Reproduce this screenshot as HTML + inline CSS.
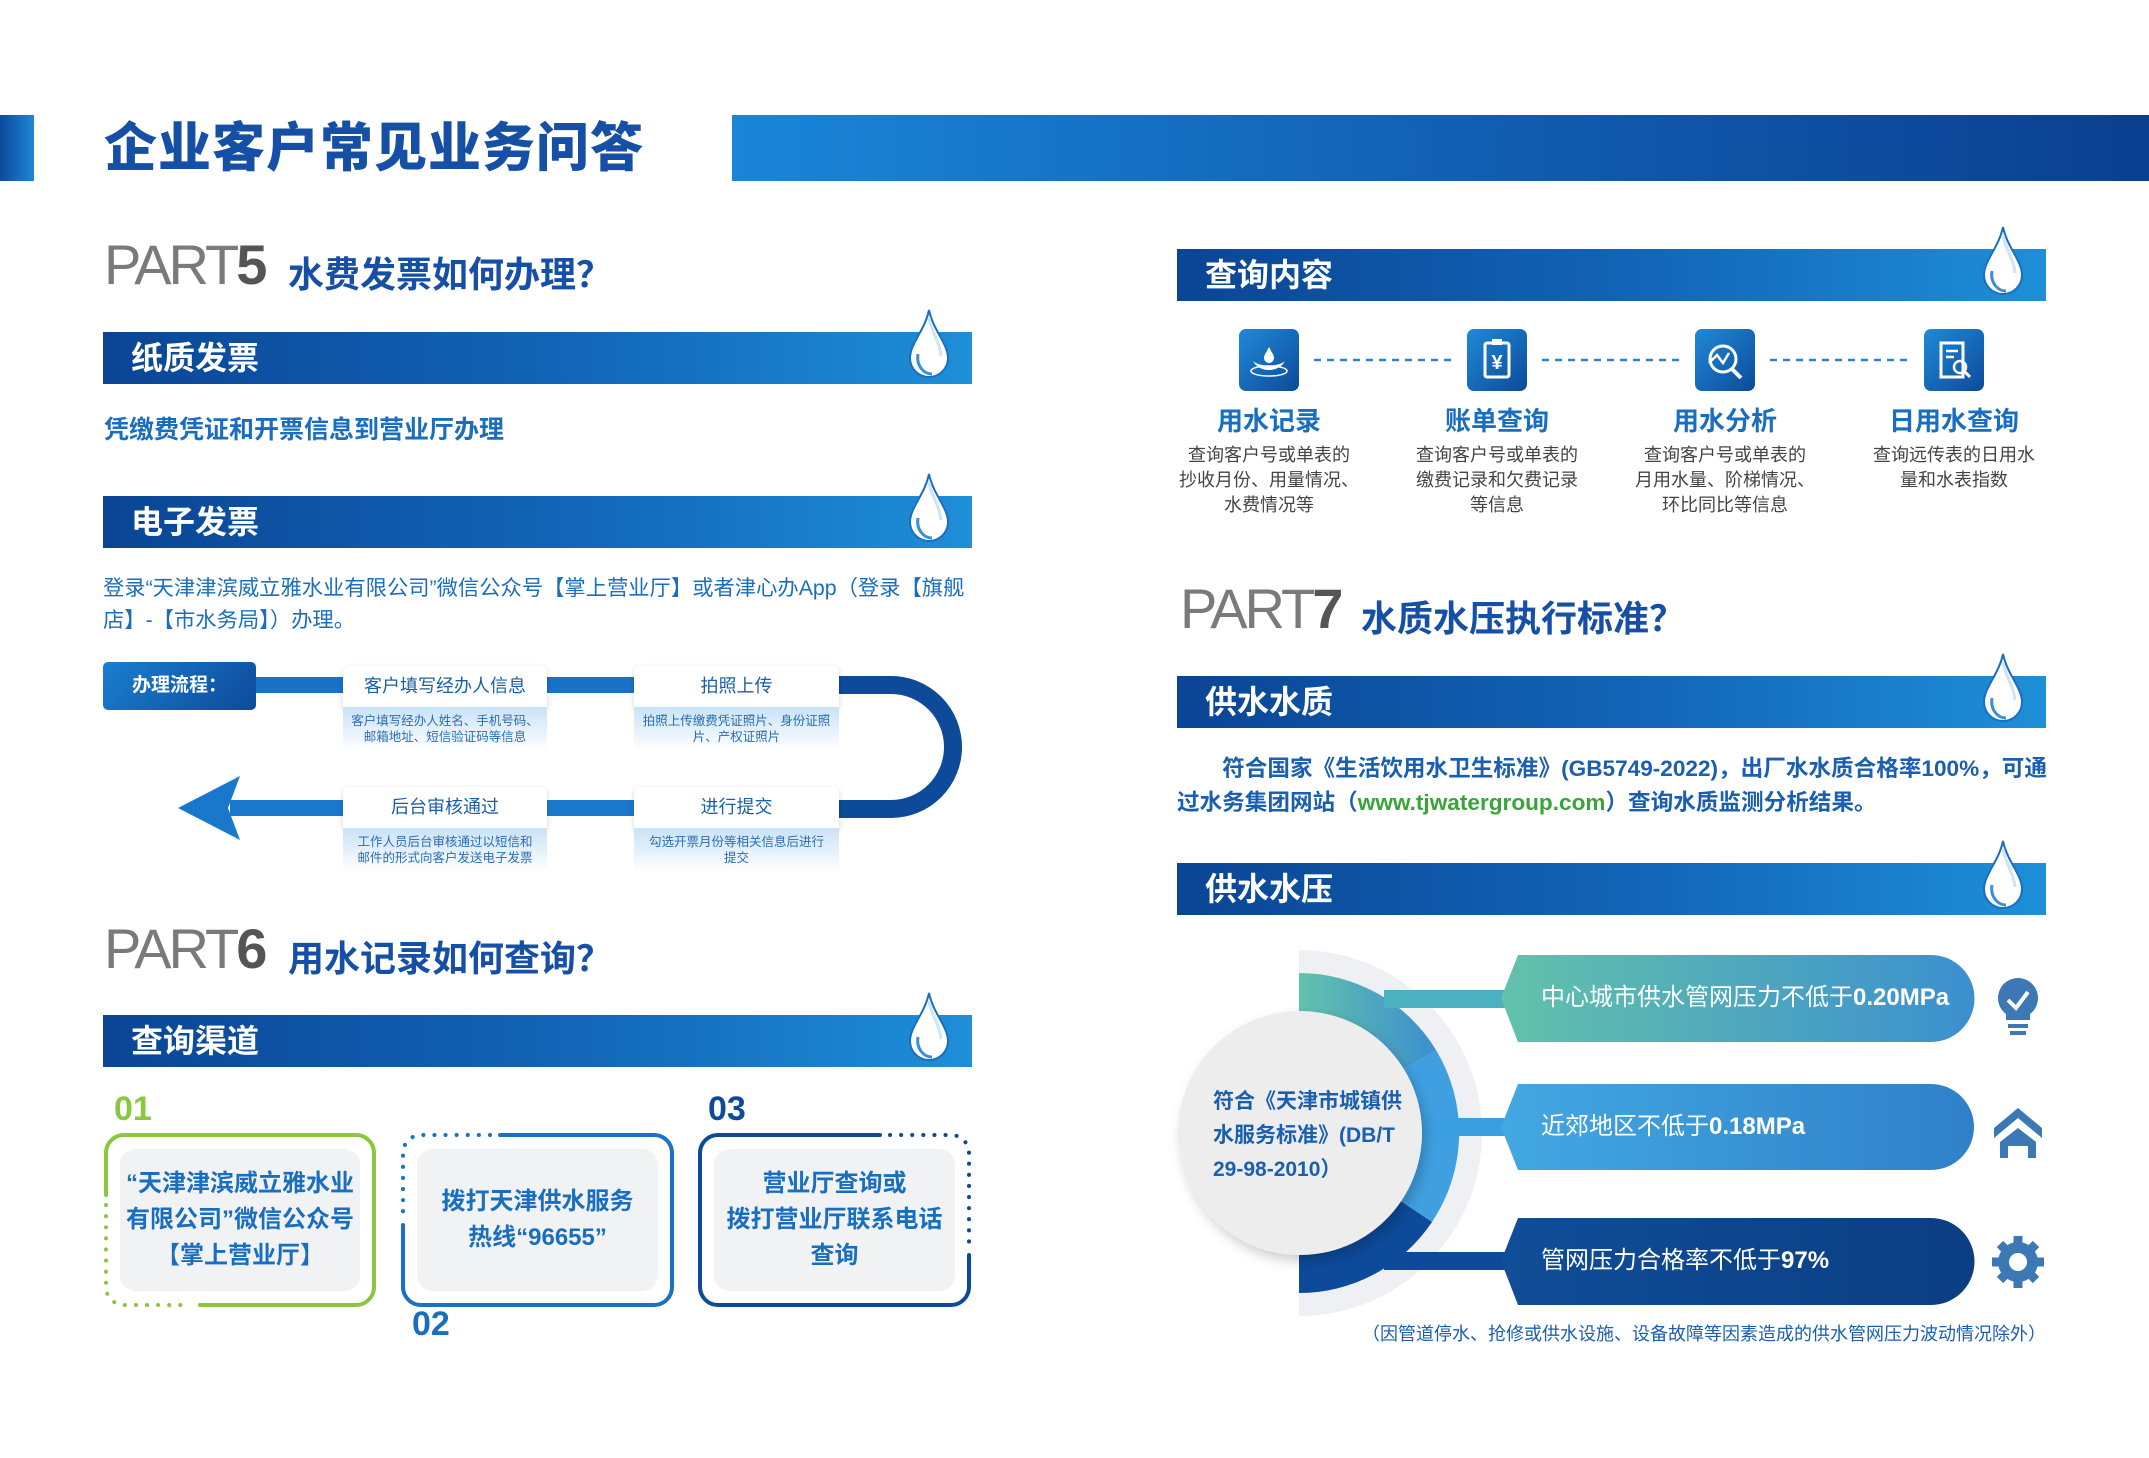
<!DOCTYPE html>
<html><head><meta charset="utf-8">
<style>
*{margin:0;padding:0;box-sizing:border-box}
body{width:2149px;height:1458px;background:#fff;position:relative;overflow:hidden;font-family:"Liberation Sans","Noto Sans CJK SC",sans-serif}
.a{position:absolute;white-space:nowrap}
.bar{position:absolute;height:52px;background:linear-gradient(90deg,#0b4595 0%,#1366b8 55%,#1e8fd8 100%);color:#fff;font-weight:700;font-size:32px;line-height:52px;padding-left:28px}
.drop{position:absolute;right:22px;top:-24px;width:42px;height:72px}
.part{font-size:56px;color:#7a7a7a;letter-spacing:-3px;font-weight:300}
.part b{color:#555;font-weight:700}
.h2{font-size:36px;color:#1650a6;font-weight:700}
.fh{position:absolute;background:#fff;box-shadow:0 2px 6px rgba(0,0,0,.18);border-radius:6px 6px 0 0;color:#1a5fa8;font-size:18px;text-align:center;line-height:41px}
.fs{position:absolute;background:linear-gradient(180deg,#c8e2f6,#ffffff);color:#2a6db5;font-size:12.5px;text-align:center;line-height:16px;padding-top:6px}
.ib{position:absolute;width:60px;height:62px;border-radius:7px;background:linear-gradient(135deg,#1f8ad8,#0d4a9a)}
.lab{position:absolute;width:220px;text-align:center;color:#1a6ec0;font-weight:700;font-size:26px}
.desc{position:absolute;width:220px;text-align:center;color:#444;font-size:18px;line-height:25px}
.card{position:absolute;background:#f1f2f4;border-radius:16px;color:#1a6ec0;font-weight:700;font-size:24px;line-height:36px;text-align:center;display:flex;align-items:center;justify-content:center}
.pill{position:absolute;color:#fff;font-size:24px;line-height:86px;padding-left:40px}
</style></head><body>

<div class="a" style="left:0;top:115px;width:34px;height:66px;background:linear-gradient(90deg,#0d4a9a,#1e88d6)"></div>
<div class="a" style="left:732px;top:115px;width:1417px;height:66px;background:linear-gradient(90deg,#1a86d8,#1260b4 50%,#0b3f8f)"></div>
<div class="a" style="left:104px;top:114px;font-size:53px;font-weight:900;color:#1650a6;line-height:70px;letter-spacing:1px">企业客户常见业务问答</div>

<svg width="0" height="0" style="position:absolute"><defs>
<symbol id="dr" viewBox="0 0 42 72"><path d="M21 2 C25 22 40 36 40 50 A19 19 0 0 1 2 50 C2 36 17 22 21 2Z" fill="#fff" stroke="#1a6ec0" stroke-width="2"/><path d="M10 46 C8 58 16 66 24 66" fill="none" stroke="#3a8fd6" stroke-width="3"/><path d="M21 10 C23 24 32 34 33 48" fill="none" stroke="#cfe4f6" stroke-width="3"/></symbol>
</defs></svg>

<div class="a part" style="left:104px;top:232px">PART<b>5</b></div>
<div class="a h2" style="left:288px;top:246px">水费发票如何办理？</div>
<div class="bar" style="left:103px;top:332px;width:869px">纸质发票<svg class="drop"><use href="#dr"/></svg></div>
<div class="a" style="left:104px;top:410px;font-size:25px;color:#1a6ec0;font-weight:700">凭缴费凭证和开票信息到营业厅办理</div>
<div class="bar" style="left:103px;top:496px;width:869px">电子发票<svg class="drop"><use href="#dr"/></svg></div>
<div class="a" style="left:103px;top:572px;font-size:21.3px;color:#1a6ec0;line-height:32px">登录“天津津滨威立雅水业有限公司”微信公众号【掌上营业厅】或者津心办App（登录【旗舰<br>店】-【市水务局】）办理。</div>

<svg class="a" style="left:0;top:0" width="1000" height="900">
<path d="M256 685 H891" stroke="#1a72c6" stroke-width="16" fill="none"/>
<path d="M839 685 H891 A62 62 0 0 1 891 809 H839" stroke="#0d4a9a" stroke-width="18" fill="none"/>
<path d="M230 808 H640" stroke="#1a78cc" stroke-width="16" fill="none"/>
<path d="M178 808 L240 776 L228 808 L240 840 Z" fill="#1a78cc"/>
</svg>
<div class="a" style="left:103px;top:662px;width:153px;height:48px;border-radius:5px;background:linear-gradient(135deg,#1a7fd0,#0d4a9a);color:#fff;font-weight:700;font-size:19px;line-height:48px;text-align:center">办理流程：</div>
<div class="fh" style="left:343px;top:666px;width:204px;height:41px">客户填写经办人信息</div>
<div class="fs" style="left:343px;top:707px;width:204px;height:44px">客户填写经办人姓名、手机号码、<br>邮箱地址、短信验证码等信息</div>
<div class="fh" style="left:634px;top:666px;width:205px;height:41px">拍照上传</div>
<div class="fs" style="left:634px;top:707px;width:205px;height:44px">拍照上传缴费凭证照片、身份证照<br>片、产权证照片</div>
<div class="fh" style="left:343px;top:787px;width:204px;height:41px">后台审核通过</div>
<div class="fs" style="left:343px;top:828px;width:204px;height:44px">工作人员后台审核通过以短信和<br>邮件的形式向客户发送电子发票</div>
<div class="fh" style="left:634px;top:787px;width:205px;height:41px">进行提交</div>
<div class="fs" style="left:634px;top:828px;width:205px;height:44px">勾选开票月份等相关信息后进行<br>提交</div>

<div class="a part" style="left:104px;top:916px">PART<b>6</b></div>
<div class="a h2" style="left:288px;top:930px">用水记录如何查询？</div>
<div class="bar" style="left:103px;top:1015px;width:869px">查询渠道<svg class="drop"><use href="#dr"/></svg></div>

<div class="a" style="left:114px;top:1090px;font-size:34px;font-weight:700;color:#8cc63f">01</div>
<div class="a" style="left:412px;top:1305px;font-size:34px;font-weight:700;color:#1a6ec0">02</div>
<div class="a" style="left:708px;top:1090px;font-size:34px;font-weight:700;color:#0d4a9a">03</div>
<svg class="a" style="left:0;top:0" width="1000" height="1340">
<g fill="none" stroke-width="4" stroke-linecap="round">
<path d="M200 1305 H356 A18 18 0 0 0 374 1287 V1153 A18 18 0 0 0 356 1135 H124 A18 18 0 0 0 106 1153 V1195" stroke="#8cc63f"/>
<path d="M106 1205 V1287 A18 18 0 0 0 124 1305 H190" stroke="#8cc63f" stroke-dasharray="0.1 11"/>
<path d="M500 1135 H654 A18 18 0 0 1 672 1153 V1287 A18 18 0 0 1 654 1305 H421 A18 18 0 0 1 403 1287 V1225" stroke="#1a72c6"/>
<path d="M490 1135 H421 A18 18 0 0 0 403 1153 V1215" stroke="#1a72c6" stroke-dasharray="0.1 11"/>
<path d="M880 1135 H718 A18 18 0 0 0 700 1153 V1287 A18 18 0 0 0 718 1305 H951 A18 18 0 0 0 969 1287 V1255" stroke="#0d4a9a"/>
<path d="M890 1135 H951 A18 18 0 0 1 969 1153 V1245" stroke="#0d4a9a" stroke-dasharray="0.1 11"/>
</g></svg>
<div class="card" style="left:120px;top:1149px;width:240px;height:142px">“天津津滨威立雅水业<br>有限公司”微信公众号<br>【掌上营业厅】</div>
<div class="card" style="left:417px;top:1149px;width:241px;height:142px">拨打天津供水服务<br>热线“96655”</div>
<div class="card" style="left:714px;top:1149px;width:241px;height:142px">营业厅查询或<br>拨打营业厅联系电话<br>查询</div>

<div class="bar" style="left:1177px;top:249px;width:869px">查询内容<svg class="drop"><use href="#dr"/></svg></div>
<svg class="a" style="left:0;top:0" width="2149" height="400">
<g stroke="#2a82d0" stroke-width="2.5" stroke-dasharray="7 6"><path d="M1314 360 H1455"/><path d="M1542 360 H1683"/><path d="M1770 360 H1911"/></g>
</svg>
<div class="ib" style="left:1239px;top:329px"><svg width="60" height="62"><path d="M30 18 C33 24 35 26 35 29 A5 5 0 0 1 25 29 C25 26 27 24 30 18Z" fill="#fff"/><path d="M14 32 C20 44 40 44 46 32 C40 38 20 38 14 32Z" fill="#fff"/><ellipse cx="30" cy="42" rx="18" ry="5" fill="none" stroke="#fff" stroke-width="1.5"/></svg></div>
<div class="ib" style="left:1467px;top:329px"><svg width="60" height="62"><rect x="18" y="14" width="24" height="34" rx="2" fill="none" stroke="#fff" stroke-width="3"/><rect x="25" y="10" width="10" height="6" fill="#fff"/><text x="30" y="40" fill="#fff" font-size="20" font-weight="700" text-anchor="middle" font-family="Liberation Sans">¥</text></svg></div>
<div class="ib" style="left:1695px;top:329px"><svg width="60" height="62"><circle cx="28" cy="30" r="13" fill="none" stroke="#fff" stroke-width="3"/><path d="M37 40 L46 49" stroke="#fff" stroke-width="4"/><path d="M14 34 L22 26 L28 34 L34 24" fill="none" stroke="#fff" stroke-width="2.5"/></svg></div>
<div class="ib" style="left:1924px;top:329px"><svg width="60" height="62"><path d="M17 14 H39 V48 H17 Z" fill="none" stroke="#fff" stroke-width="3"/><path d="M22 22 H34 M22 28 H30" stroke="#fff" stroke-width="2.5"/><circle cx="36" cy="38" r="6" fill="none" stroke="#fff" stroke-width="2.5"/><path d="M40 42 L46 48" stroke="#fff" stroke-width="3"/></svg></div>
<div class="lab" style="left:1159px;top:401px">用水记录</div>
<div class="lab" style="left:1387px;top:401px">账单查询</div>
<div class="lab" style="left:1615px;top:401px">用水分析</div>
<div class="lab" style="left:1844px;top:401px">日用水查询</div>
<div class="desc" style="left:1159px;top:443px">查询客户号或单表的<br>抄收月份、用量情况、<br>水费情况等</div>
<div class="desc" style="left:1387px;top:443px">查询客户号或单表的<br>缴费记录和欠费记录<br>等信息</div>
<div class="desc" style="left:1615px;top:443px">查询客户号或单表的<br>月用水量、阶梯情况、<br>环比同比等信息</div>
<div class="desc" style="left:1844px;top:443px">查询远传表的日用水<br>量和水表指数</div>

<div class="a part" style="left:1180px;top:576px">PART<b>7</b></div>
<div class="a h2" style="left:1361px;top:590px">水质水压执行标准？</div>
<div class="bar" style="left:1177px;top:676px;width:869px">供水水质<svg class="drop"><use href="#dr"/></svg></div>
<div class="a" style="left:1177px;top:752px;font-size:22.6px;color:#1a5fb0;font-weight:700;line-height:34px">　　符合国家《生活饮用水卫生标准》(GB5749-2022)，出厂水水质合格率100%，可通<br>过水务集团网站（<span style="color:#3aa43a">www.tjwatergroup.com</span>）查询水质监测分析结果。</div>
<div class="bar" style="left:1177px;top:863px;width:869px">供水水压<svg class="drop"><use href="#dr"/></svg></div>

<svg class="a" style="left:0;top:0" width="2149" height="1458">
<defs>
<clipPath id="cr"><rect x="1299" y="900" width="400" height="500"/></clipPath>
<linearGradient id="g1" x1="0" x2="1"><stop offset="0" stop-color="#62c2ab"/><stop offset="1" stop-color="#3c8fcf"/></linearGradient>
<linearGradient id="g2" x1="0" x2="1"><stop offset="0" stop-color="#43a8e2"/><stop offset="1" stop-color="#2f80c8"/></linearGradient>
<linearGradient id="g3" x1="0" x2="1"><stop offset="0" stop-color="#104e98"/><stop offset="1" stop-color="#0b3d82"/></linearGradient>
<filter id="sh"><feDropShadow dx="4" dy="6" stdDeviation="6" flood-opacity=".2"/></filter>
</defs>
<g clip-path="url(#cr)">
<circle cx="1299" cy="1133" r="183" fill="#eef0f3"/>
<path d="M1299 1133 L1299 973 A160 160 0 0 1 1436 1050 Z" fill="url(#g1)"/>
<path d="M1299 1133 L1436 1050 A160 160 0 0 1 1432 1222 Z" fill="#3f9fe0"/>
<path d="M1299 1133 L1432 1222 A160 160 0 0 1 1299 1293 Z" fill="#0d4a9a"/>
</g>
<rect x="1384" y="990" width="130" height="18" fill="#4bb0c0"/>
<rect x="1410" y="1118" width="104" height="18" fill="#3a9ee0"/>
<rect x="1384" y="1252" width="130" height="18" fill="#0d4a9a"/>
<circle cx="1300" cy="1133" r="122" fill="#ededee" filter="url(#sh)"/>
<path d="M1518 955 H1931 A43 43 0 0 1 1931 1042 H1518 L1501 998 Z" fill="url(#g1)"/>
<path d="M1518 1084 H1931 A43 43 0 0 1 1931 1170 H1518 L1501 1127 Z" fill="url(#g2)"/>
<path d="M1518 1218 H1931 A43 43 0 0 1 1931 1305 H1518 L1501 1261 Z" fill="url(#g3)"/>
<g fill="#3b78b4">
<path d="M2018 978 A20 20 0 0 1 2030 1014 V1020 H2006 V1014 A20 20 0 0 1 2018 978Z"/>
<rect x="2008" y="1024" width="20" height="4"/><rect x="2010" y="1031" width="16" height="4"/>
<path d="M2008 1000 L2016 1008 L2028 992" stroke="#fff" stroke-width="4" fill="none"/>
<path d="M2018 1108 L2042 1128 V1138 L2018 1118 L1994 1138 V1128Z"/>
<path d="M2000 1142 L2018 1128 L2036 1142 V1158 H2028 V1146 H2008 V1158 H2000Z"/>
<circle cx="2018" cy="1262" r="20"/>
<g stroke="#3b78b4" stroke-width="9"><path d="M2018 1236 V1288 M1992 1262 H2044 M2000 1244 L2036 1280 M2036 1244 L2000 1280"/></g>
<circle cx="2018" cy="1262" r="9" fill="#fff"/>
</g>
</svg>
<div class="a" style="left:1213px;top:1085px;font-size:21px;font-weight:700;color:#1a5fb0;line-height:34px">符合《天津市城镇供<br>水服务标准》(DB/T<br>29-98-2010）</div>
<div class="pill" style="left:1501px;top:955px">中心城市供水管网压力不低于<b>0.20MPa</b></div>
<div class="pill" style="left:1501px;top:1084px">近郊地区不低于<b>0.18MPa</b></div>
<div class="pill" style="left:1501px;top:1218px">管网压力合格率不低于<b>97%</b></div>
<div class="a" style="left:1362px;top:1320px;font-size:18px;color:#1a5fb0">（因管道停水、抢修或供水设施、设备故障等因素造成的供水管网压力波动情况除外）</div>
</body></html>
